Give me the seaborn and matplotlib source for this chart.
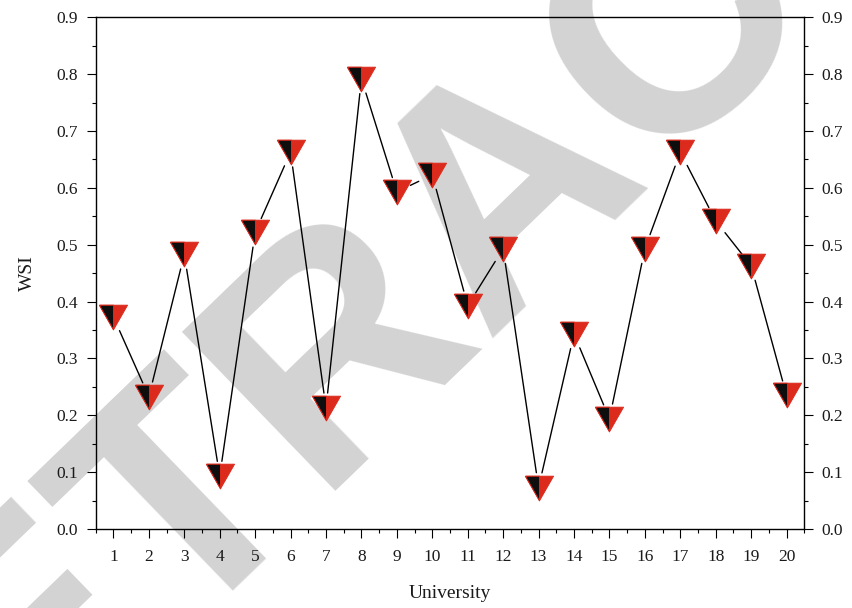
import numpy as np
import pandas as pd
import matplotlib
matplotlib.use("Agg")
import matplotlib.pyplot as plt
from matplotlib.ticker import MultipleLocator
import seaborn as sns

university = list(range(1, 21))
wsi = [0.373, 0.233, 0.483, 0.093, 0.522, 0.663, 0.213, 0.792, 0.593, 0.623,
       0.393, 0.493, 0.073, 0.343, 0.194, 0.493, 0.663, 0.542, 0.463, 0.235]
x_ticks = list(range(1, 21))
y_ticks = [0.0, 0.1, 0.2, 0.3, 0.4, 0.5, 0.6, 0.7, 0.8, 0.9]

df = pd.DataFrame({"University": university, "WSI": wsi})

sns.set_theme(style="ticks")
plt.rcParams["font.family"] = ["Liberation Serif", "DejaVu Serif"]

red = "#dc2a1c"
blk = "#0e0e0e"

fig = plt.figure(figsize=(8.53, 6.08), dpi=100)
# watermark behind the chart
fig.text(0.664, 0.592, "RETRACTED", rotation=44, rotation_mode="anchor",
         ha="center", va="baseline", fontsize=232, fontweight="bold",
         color="#d3d3d3", family="Liberation Sans", zorder=-1)

ax = fig.add_axes([0.1122, 0.1299, 0.8307, 0.8416])
ax.patch.set_alpha(0)
ax.set_xlim(0.5, 20.5)
ax.set_ylim(0, 0.9)

# connecting lines, stopped short of each marker
pts = ax.transData.transform(np.column_stack([df["University"], df["WSI"]]))
gap = 15
for p0, p1 in zip(pts[:-1], pts[1:]):
    d = p1 - p0
    L = np.hypot(*d)
    if L <= 2 * gap:
        continue
    u = d / L
    a, b = ax.transData.inverted().transform([p0 + u * gap, p1 - u * gap])
    ax.plot([a[0], b[0]], [a[1], b[1]], color="black", lw=1.0, zorder=2)

tri = [(-1, 0.875), (1, 0.875), (0, -0.875), (-1, 0.875)]
half = [(-1, 0.875), (0, 0.875), (0, -0.875), (-1, 0.875)]
sns.scatterplot(data=df, x="University", y="WSI", marker=tri, s=408,
                color=red, edgecolor=red, linewidth=0.7, ax=ax, zorder=3)
sns.scatterplot(data=df, x="University", y="WSI", marker=half, s=408,
                color=blk, edgecolor=red, linewidth=0.7, ax=ax, zorder=4)

ax.set_xticks(x_ticks)
ax.set_yticks(y_ticks)
ax.set_yticklabels([f"{v:.1f}" for v in y_ticks])
ax.xaxis.set_minor_locator(MultipleLocator(0.5))
ax.yaxis.set_minor_locator(MultipleLocator(0.05))
ax.tick_params(axis="both", which="major", direction="out", length=6.5,
               width=0.8, color="black", labelsize=12.5, labelcolor="#1a1a1a")
ax.tick_params(axis="both", which="minor", direction="out", length=3,
               width=0.8, color="black")
ax.tick_params(axis="y", which="both", left=True, right=True, labelright=True, pad=6)
ax.tick_params(axis="x", which="both", top=False, pad=8)
for sp in ax.spines.values():
    sp.set_visible(True)
    sp.set_linewidth(1.0)
    sp.set_color("black")

ax.set_xlabel("University", fontsize=14, color="#1a1a1a", labelpad=14)
ax.set_ylabel("WSI", fontsize=14, color="#1a1a1a", labelpad=15)

fig.savefig("out.png", dpi=100)
